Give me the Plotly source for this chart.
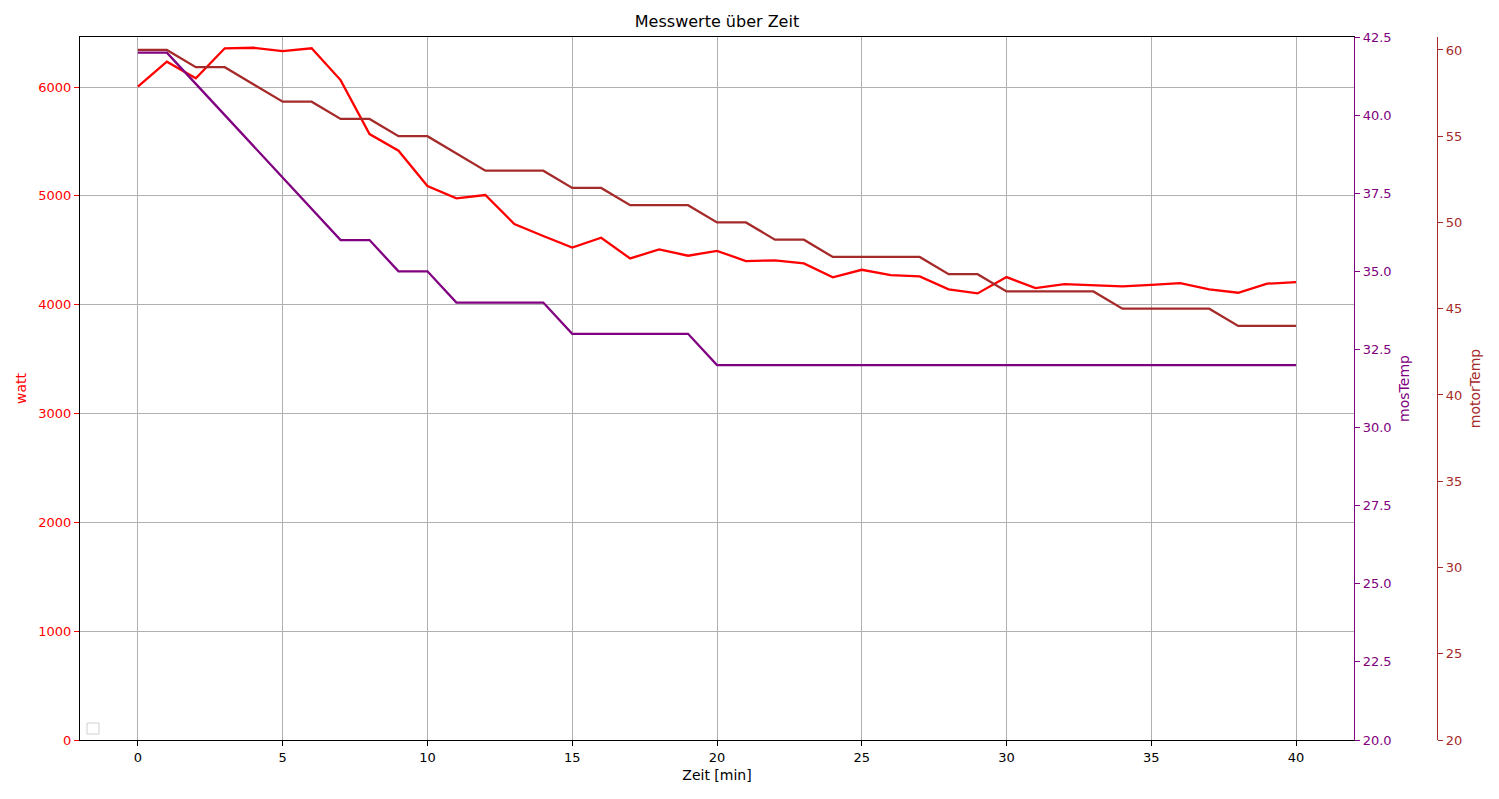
import plotly.graph_objects as go

# Zeit in Minuten
zeit = list(range(41))

watt = [6003, 6233, 6080, 6356, 6361, 6331, 6356, 6064, 5568, 5415,
        5090, 4977, 5008, 4741, 4631, 4525, 4615, 4425, 4508, 4450,
        4495, 4401, 4407, 4379, 4251, 4321, 4272, 4260, 4141, 4104,
        4254, 4153, 4190, 4180, 4168, 4183, 4199, 4141, 4110, 4193, 4208]

mos_temp = [42, 42, 41, 40, 39, 38, 37, 36, 36, 35,
            35, 34, 34, 34, 34, 33, 33, 33, 33, 33,
            32, 32, 32, 32, 32, 32, 32, 32, 32, 32,
            32, 32, 32, 32, 32, 32, 32, 32, 32, 32, 32]

motor_temp = [60, 60, 59, 59, 58, 57, 57, 56, 56, 55,
              55, 54, 53, 53, 53, 52, 52, 51, 51, 51,
              50, 50, 49, 49, 48, 48, 48, 48, 47, 47,
              46, 46, 46, 46, 45, 45, 45, 45, 44, 44, 44]

font = "DejaVu Sans"
grid = "#b0b0b0"
W, H = 1491, 791  # page body has an 8px margin
# plot area 1274 px wide, motorTemp spine 83 px right of it
dom = 1274 / 1357

fig = go.Figure()
fig.add_trace(go.Scatter(x=zeit, y=watt, mode="lines", line=dict(color="red", width=2.3),
                         yaxis="y", showlegend=False))
fig.add_trace(go.Scatter(x=zeit, y=mos_temp, mode="lines", line=dict(color="purple", width=2.3),
                         yaxis="y2", showlegend=False))
fig.add_trace(go.Scatter(x=zeit, y=motor_temp, mode="lines", line=dict(color="brown", width=2.3),
                         yaxis="y3", showlegend=False))

tick_common = dict(ticks="outside", ticklen=5, tickwidth=1, showline=True, linewidth=1.2,
                   zeroline=False, automargin=False)

fig.update_layout(
    width=W, height=H,
    margin=dict(l=72, r=62, t=29, b=59),
    paper_bgcolor="white", plot_bgcolor="white",
    font=dict(family=font, size=13, color="black"),
    title=dict(text="Messwerte über Zeit", x=(72 + 1274 / 2) / W, xanchor="center",
               y=1 - 13 / H, yanchor="middle", font=dict(size=16, color="black")),
    xaxis=dict(domain=[0, dom], range=[-2, 42], tickvals=[0, 5, 10, 15, 20, 25, 30, 35, 40],
               showgrid=True, gridcolor=grid, gridwidth=1, mirror=True, linecolor="black",
               tickcolor="black", title=dict(text="Zeit [min]", font=dict(size=14), standoff=6),
               **tick_common),
    yaxis=dict(range=[0, 6460], tickvals=[0, 1000, 2000, 3000, 4000, 5000, 6000],
               showgrid=True, gridcolor=grid, gridwidth=1, linecolor="black",
               tickcolor="red", tickfont=dict(color="red"),
               title=dict(text="watt", font=dict(size=14, color="red"), standoff=8),
               **tick_common),
    yaxis2=dict(range=[20, 42.5], dtick=2.5, tick0=20, tickformat=".1f", overlaying="y",
                side="right", anchor="x", showgrid=False, linecolor="purple",
                tickcolor="purple", tickfont=dict(color="purple"),
                title=dict(text="mosTemp", font=dict(size=14, color="purple"), standoff=8),
                **tick_common),
    yaxis3=dict(range=[20, 60.75], dtick=5, tick0=20, overlaying="y", side="right",
                anchor="free", position=1.0, showgrid=False, linecolor="brown",
                tickcolor="brown", tickfont=dict(color="brown"),
                title=dict(text="motorTemp", font=dict(size=14, color="brown"), standoff=8),
                **tick_common),
    shapes=[dict(type="rect", xref="paper", yref="paper",
                 x0=(87 - 80) / 1357, x1=(99 - 80) / 1357,
                 y0=(740 - 734) / 703, y1=(740 - 723) / 703,
                 line=dict(color="#d0d0d0", width=1), fillcolor="white")],
)

fig.write_html("out.html")
